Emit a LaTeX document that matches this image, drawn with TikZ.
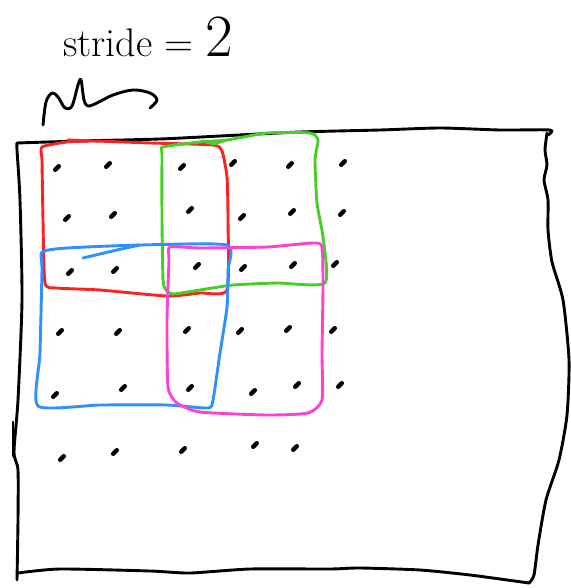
\documentclass[tikz,border=0pt]{standalone}
\usepackage{tikz}
\definecolor{penred}{RGB}{255,32,32}
\definecolor{pengreen}{RGB}{72,206,40}
\definecolor{penblue}{RGB}{48,144,255}
\definecolor{penpink}{RGB}{255,64,214}
\tikzset{
  pen/.style={line width=2.9pt, line cap=round, line join=round},
  inkline/.style={pen, black},
  dotmark/.style={line width=4.4pt, line cap=round, black},
  handtext/.style={inner sep=0pt, anchor=base west}
}
\begin{document}
\begin{tikzpicture}[x=1pt,y=-1pt]
\useasboundingbox (0,0) rectangle (570,588);
% title
\node[handtext] (title) at (63,57) {{\fontsize{40pt}{40pt}\selectfont stride = }{\fontsize{60pt}{60pt}\selectfont 2}};
% squiggle
\draw[inkline] plot[smooth, tension=0.55] coordinates {(43,125) (46,102) (52,93) (58,97) (65,108) (72,106) (78,85) (81,80) (84,100) (88,106) (97,103) (113,95) (133,90) (150,93) (157,100) (150,108)};
% outer frame
\draw[inkline] plot[smooth, tension=0.4] coordinates {(17,143) (80,141) (160,139) (220,136) (300,132) (380,130) (440,128) (500,130) (550,130) (548,135)};
\draw[inkline] plot[smooth, tension=0.4] coordinates {(547,133) (545,150) (547,165) (544,180) (548,200) (548,230) (552,262) (563,300) (569,360) (567,415) (559,460) (546,500) (538,545) (534,575) (529,583)};
\draw[inkline] plot[smooth, tension=0.4] coordinates {(529,583) (470,575) (420,570) (360,568) (330,569) (250,569) (190,573) (150,571) (60,569) (18,573)};
\draw[inkline] plot[smooth, tension=0.4] coordinates {(17,580) (18,520) (18,470) (14,452) (18,400) (22,300) (20,200) (17,150) (17,143)};
\draw[inkline] (13,422) -- (13,456);
% dots
\foreach \px/\py in {57/168,108/165,182/167,233/163,290/165,343/163,
  67/218,113/215,190/210,242/217,292/212,342/213,
  70/272,115/270,197/266,243/268,293/265,335/264,
  60/332,118/332,187/330,240/331,288/329,333/330,
  55/395,123/388,190/388,253/392,297/385,340/385,
  62/458,115/452,183/450,255/445,295/448}
  \draw[dotmark] (\px-1.8,\py+1.8) -- (\px+1.8,\py-1.8);
% red window
\draw[pen, penred] plot[smooth cycle, tension=0.35] coordinates {(42,147) (67,142) (93,141) (150,143) (213,145) (222,151) (227,177) (228,220) (227,290) (200,293) (167,296) (100,290) (57,288) (45,283) (43,220) (42,160)};
\draw[pen, penred] (68,140) -- (90,141);
% green window
\draw[pen, pengreen] plot[smooth cycle, tension=0.35] coordinates {(163,147) (200,142) (227,140) (267,133) (310,133) (318,140) (315,160) (317,203) (323,237) (325,283) (277,283) (233,285) (200,290) (173,294) (166,290) (163,280) (162,220) (162,155)};
\draw[pen, pengreen] (202,141) -- (214,144) -- (226,140);
% blue window
\draw[pen, penblue] plot[smooth cycle, tension=0.35] coordinates {(42,252) (67,248) (140,245) (227,245) (228,270) (227,307) (220,353) (213,400) (208,408) (167,405) (100,405) (38,406) (40,353) (42,270)};
\draw[pen, penblue] plot[smooth, tension=0.5] coordinates {(83,258) (117,250) (140,245)};
% magenta window
\draw[pen, penpink] plot[smooth cycle, tension=0.35] coordinates {(170,247) (200,248) (267,247) (313,243) (322,247) (323,287) (322,353) (322,400) (308,413) (267,415) (200,412) (177,403) (168,387) (167,320) (169,260)};
\end{tikzpicture}
\end{document}
